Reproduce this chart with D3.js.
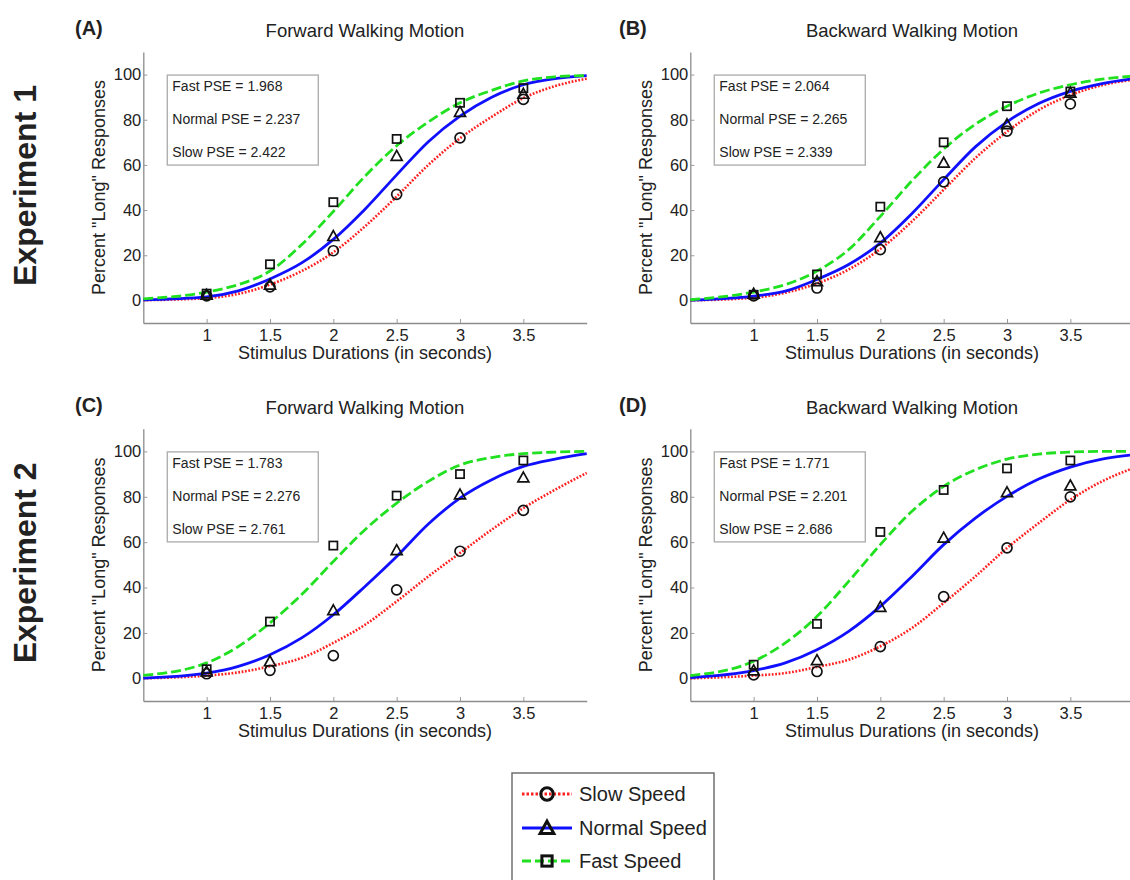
<!DOCTYPE html>
<html>
<head>
<meta charset="utf-8">
<script src="https://cdn.jsdelivr.net/npm/d3@7"></script>
<style>
  body { margin: 0; background: #fff; }
  text { font-family: "Liberation Sans", Arial, sans-serif; fill: #222; }
</style>
</head>
<body>
<script>
// ---- data ----
const xTicks = [1, 1.5, 2, 2.5, 3, 3.5];
const yTicks = [0, 20, 40, 60, 80, 100];
const durations = [1, 1.5, 2, 2.5, 3, 3.5];
// x positions where the fitted psychometric curves are sampled
const fitX = [0.5, 1, 1.25, 1.5, 1.75, 2, 2.25, 2.5, 2.75, 3, 3.25, 3.5, 3.75, 4];

const panelLabels = ["(A)", "(B)", "(C)", "(D)"];
const panelTitles = ["Forward Walking Motion", "Backward Walking Motion", "Forward Walking Motion", "Backward Walking Motion"];
const rowLabels = ["Experiment 1", "Experiment 2"];
const seriesNames = ["Slow Speed", "Normal Speed", "Fast Speed"];

const fastPSE = [1.968, 2.064, 1.783, 1.771];
const normalPSE = [2.237, 2.265, 2.276, 2.201];
const slowPSE = [2.422, 2.339, 2.761, 2.686];

// observed percent "long" responses
const slowA = [2, 6, 22, 47, 72, 89];
const normalA = [2.5, 7, 28.5, 64, 83.5, 91.5];
const fastA = [3, 16, 43.5, 71.5, 87.5, 94];
const slowB = [2, 5.5, 22.5, 52.5, 75, 87];
const normalB = [3, 8.5, 28, 61, 78, 92];
const fastB = [2.5, 11.5, 41.5, 70, 86, 92.5];
const slowC = [2, 3.5, 10, 39, 56, 74];
const normalC = [3, 7.5, 30, 56.5, 81, 88.5];
const fastC = [4, 25, 58.5, 80.5, 90, 96];
const slowD = [1.5, 3, 14, 36, 57.5, 80];
const normalD = [3.5, 8, 31.5, 62, 82, 85];
const fastD = [6, 24, 64.5, 83, 92.5, 96];

// fitted curves, sampled at fitX
const slowFitA = [0.1, 1, 2.9, 7, 13, 21.3, 32.8, 46, 60, 71.8, 81.3, 89.6, 94.9, 98.2];
const normalFitA = [0.3, 1.6, 4.2, 9.5, 16.6, 27, 40.4, 55.6, 70.3, 81.6, 90, 95.5, 98.2, 99.5];
const fastFitA = [0.7, 3.7, 7, 13, 24.7, 39.4, 55, 68.5, 79, 87.5, 93, 97.2, 99, 99.6];
const slowFitB = [0, 1.2, 3.4, 7.5, 13.7, 22.8, 35, 49, 63, 74.7, 84.3, 90.9, 95.3, 97.8];
const normalFitB = [0.1, 1.9, 4.1, 9.3, 15.9, 25.4, 38.5, 53.5, 68, 79.1, 87.2, 92.6, 96, 98.2];
const fastFitB = [0.3, 3.7, 7, 13, 22.5, 37.2, 53, 67, 78, 86, 91.8, 95.5, 98, 99.3];
const slowFitC = [0, 1.2, 2.6, 5.3, 9, 15.6, 23.6, 33.9, 44.9, 55.2, 65.5, 75, 83.1, 90.5];
const normalFitC = [0.1, 2.3, 5.3, 10.4, 17.8, 28, 40.5, 53.7, 68, 79.4, 87.5, 93.4, 96.6, 99];
const fastFitC = [1.3, 6.8, 14, 24.4, 36.9, 51.5, 65.5, 77.2, 86.8, 94, 97.3, 99, 99.7, 100];
const slowFitD = [0, 1.2, 2.3, 5, 8.2, 14.1, 22.2, 33.2, 44.9, 57.4, 68.4, 78.7, 86.8, 92.7];
const normalFitD = [0.3, 3.4, 6.8, 12.6, 20.7, 31.7, 44.9, 58.9, 70.6, 80.2, 87.8, 93.1, 96.6, 98.5];
const fastFitD = [1.2, 7.5, 15.6, 27.3, 42.7, 58.9, 73.6, 84.6, 91.9, 96.6, 98.8, 99.7, 100, 100];

// ---- layout ----
const W = 1130, H = 880;
const colX = [143.3, 690.3];        // left end of x axis per column
const plotW = 443.4;
const rowY = [[323, 52], [701, 428.7]]; // y range per row (bottom, top)
const colLabelX = [75, 619];

const seriesStyle = [
  { color: "#ff2020", width: 2.6, dash: "1.8,1.6", marker: "circle" },
  { color: "#1010ff", width: 2.8, dash: null, marker: "triangle" },
  { color: "#20e020", width: 2.8, dash: "10,4", marker: "square" }
];

const panels = [
  { obs: [slowA, normalA, fastA], fit: [slowFitA, normalFitA, fastFitA] },
  { obs: [slowB, normalB, fastB], fit: [slowFitB, normalFitB, fastFitB] },
  { obs: [slowC, normalC, fastC], fit: [slowFitC, normalFitC, fastFitC] },
  { obs: [slowD, normalD, fastD], fit: [slowFitD, normalFitD, fastFitD] }
];

const svg = d3.select("body").append("svg").attr("width", W).attr("height", H);
svg.append("rect").attr("width", W).attr("height", H).attr("fill", "#fff");

function drawMarker(g, type, cx, cy, size, sw) {
  if (type === "circle") {
    g.append("circle").attr("cx", cx).attr("cy", cy).attr("r", size * 0.5)
      .attr("fill", "none").attr("stroke", "#111").attr("stroke-width", sw);
  } else if (type === "square") {
    const s = size * 0.82;
    g.append("rect").attr("x", cx - s / 2).attr("y", cy - s / 2).attr("width", s).attr("height", s)
      .attr("fill", "none").attr("stroke", "#111").attr("stroke-width", sw);
  } else {
    const s = size * 1.1, h = s * 0.9;
    g.append("path")
      .attr("d", `M${cx},${cy - h * 0.55}L${cx + s / 2},${cy + h * 0.45}L${cx - s / 2},${cy + h * 0.45}Z`)
      .attr("fill", "none").attr("stroke", "#111").attr("stroke-width", sw).attr("stroke-linejoin", "miter");
  }
}

panels.forEach((p, i) => {
  const col = i % 2, row = Math.floor(i / 2);
  const x = d3.scaleLinear().domain([0.5, 4]).range([colX[col], colX[col] + plotW]);
  const y = d3.scaleLinear().domain([-10, 110]).range(rowY[row]);
  const g = svg.append("g");

  // axes
  const ax = g.append("g").attr("transform", `translate(0,${y(-10)})`)
    .call(d3.axisBottom(x).tickValues(xTicks).tickFormat(d3.format("")).tickSizeInner(-4).tickSizeOuter(0).tickPadding(6));
  const ay = g.append("g").attr("transform", `translate(${x(0.5)},0)`)
    .call(d3.axisLeft(y).tickValues(yTicks).tickSizeInner(-4).tickSizeOuter(0).tickPadding(2));
  [ax, ay].forEach(a => {
    a.select(".domain").attr("stroke", "#8c8c8c").attr("stroke-width", 1.3);
    a.selectAll(".tick line").attr("stroke", "#9a9a9a").attr("stroke-width", 1);
    a.selectAll(".tick text").attr("font-size", 16.5).attr("fill", "#222")
      .attr("font-family", "Liberation Sans, Arial, sans-serif");
  });

  // axis titles
  g.append("text").attr("x", (x.range()[0] + x.range()[1]) / 2).attr("y", y(-10) + 36)
    .attr("text-anchor", "middle").attr("font-size", 18).text("Stimulus Durations (in seconds)");
  g.append("text")
    .attr("transform", `translate(${x(0.5) - 38.5},${(y(-10) + y(110)) / 2}) rotate(-90)`)
    .attr("text-anchor", "middle").attr("font-size", 18).text('Percent "Long" Responses');

  // panel title and letter
  g.append("text").attr("x", (x.range()[0] + x.range()[1]) / 2).attr("y", y(110) - 15)
    .attr("text-anchor", "middle").attr("font-size", 18.5).text(panelTitles[i]);
  g.append("text").attr("x", colLabelX[col]).attr("y", y(110) - 17)
    .attr("font-size", 20).attr("font-weight", "bold").attr("fill", "#000")
    .attr("font-family", "Open Sans, sans-serif").text(panelLabels[i]);

  // PSE annotation box
  const bx = x(0.5) + 24, by = y(100) + 0.5;
  g.append("rect").attr("x", bx).attr("y", by).attr("width", 151).attr("height", 90)
    .attr("fill", "#fff").attr("stroke", "#b0b0b0").attr("stroke-width", 1.4);
  const pseLines = [
    `Fast PSE = ${fastPSE[i].toFixed(3)}`,
    `Normal PSE = ${normalPSE[i].toFixed(3)}`,
    `Slow PSE = ${slowPSE[i].toFixed(3)}`
  ];
  pseLines.forEach((t, k) => {
    g.append("text").attr("x", bx + 5).attr("y", by + 16 + k * 33)
      .attr("font-size", 14).attr("fill", "#333").text(t);
  });

  // fitted curves
  const line = d3.line().x(d => x(d[0])).y(d => y(d[1])).curve(d3.curveMonotoneX);
  p.fit.forEach((vals, s) => {
    const st = seriesStyle[s];
    g.append("path").datum(fitX.map((xv, k) => [xv, vals[k]]))
      .attr("d", line).attr("fill", "none").attr("stroke", st.color)
      .attr("stroke-width", st.width).attr("stroke-dasharray", st.dash);
  });

  // observed points
  p.obs.forEach((vals, s) => {
    vals.forEach((v, k) => drawMarker(g, seriesStyle[s].marker, x(durations[k]), y(v), 10, 1.7));
  });
});

// row labels
rowLabels.forEach((t, r) => {
  const cy = (rowY[r][0] + rowY[r][1]) / 2 - 2;
  svg.append("text").attr("transform", `translate(36,${cy}) rotate(-90)`)
    .attr("text-anchor", "middle").attr("font-size", 32).attr("font-weight", "bold")
    .attr("fill", "#000").attr("font-family", "Open Sans, sans-serif").text(t);
});

// legend
const lg = svg.append("g");
lg.append("rect").attr("x", 512).attr("y", 773).attr("width", 202).attr("height", 112)
  .attr("fill", "#fff").attr("stroke", "#666").attr("stroke-width", 1.4);
const legendY = [794, 828, 861];
seriesNames.forEach((name, s) => {
  const st = seriesStyle[s];
  lg.append("line").attr("x1", 522).attr("x2", 572).attr("y1", legendY[s]).attr("y2", legendY[s])
    .attr("stroke", st.color).attr("stroke-width", 3.2).attr("stroke-dasharray", st.dash ? (s === 0 ? "2.5,2" : "9,4") : null);
  drawMarker(lg, st.marker, 547, legendY[s], 12.5, 3);
  lg.append("text").attr("x", 579).attr("y", legendY[s] + 7).attr("font-size", 20).text(name);
});
</script>
</body>
</html>
